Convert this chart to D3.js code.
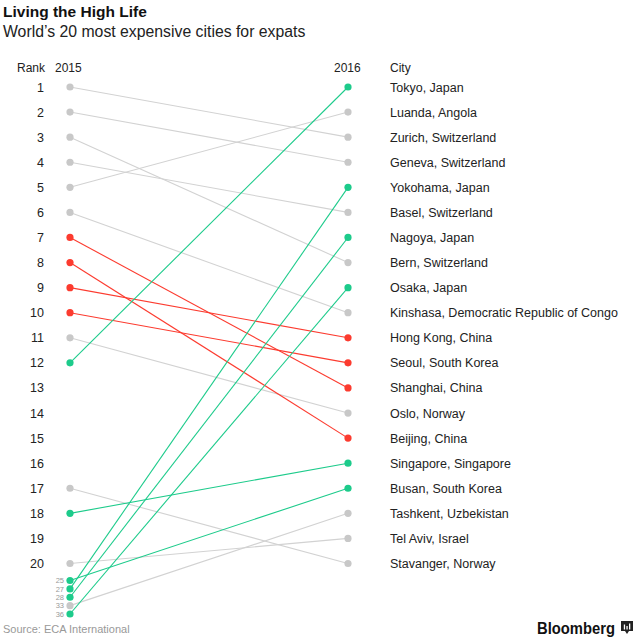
<!DOCTYPE html>
<html>
<head>
<meta charset="utf-8">
<script src="https://cdn.jsdelivr.net/npm/d3@7/dist/d3.min.js"></script>
<style>
  html, body { margin: 0; padding: 0; background: #fff; }
  svg { display: block; font-family: "Liberation Sans", Arial, sans-serif; }
</style>
</head>
<body>
<svg id="chart" width="640" height="640"></svg>
<script>
const cities = ["Tokyo, Japan","Luanda, Angola","Zurich, Switzerland","Geneva, Switzerland","Yokohama, Japan","Basel, Switzerland","Nagoya, Japan","Bern, Switzerland","Osaka, Japan","Kinshasa, Democratic Republic of Congo","Hong Kong, China","Seoul, South Korea","Shanghai, China","Oslo, Norway","Beijing, China","Singapore, Singapore","Busan, South Korea","Tashkent, Uzbekistan","Tel Aviv, Israel","Stavanger, Norway"];
const rank2016 = [1,2,3,4,5,6,7,8,9,10,11,12,13,14,15,16,17,18,19,20];
const rank2015 = [12,5,1,2,27,4,28,3,36,6,9,10,7,11,8,18,25,33,20,17];
const group = ["green","gray","gray","gray","green","gray","green","gray","green","gray","red","red","red","gray","red","green","green","gray","gray","gray"];
const mainRanks = d3.range(1, 21);
const extraRanks = [25, 27, 28, 33, 36];

const colors = { green: "#1dcb8b", red: "#fc3b2f", gray: "#c8c8c8" };
const lineColors = { green: "#1dcb8b", red: "#fc3b2f", gray: "#d2d2d2" };

const svg = d3.select("#chart");
const xLeft = 70, xRight = 348;
const yMain = d3.scaleLinear().domain([1, 20]).range([87, 563.5]);
const yExtra = d3.scalePoint().domain(extraRanks).range([580.5, 614]);
const y = r => r <= 20 ? yMain(r) : yExtra(r);

const data = cities.map((c, i) => ({ city: c, r15: rank2015[i], r16: rank2016[i], g: group[i] }));

// Title
svg.append("text").attr("x", 3).attr("y", 17).attr("font-size", 15.5).attr("font-weight", "bold").attr("fill", "#111").text("Living the High Life");
svg.append("text").attr("x", 3).attr("y", 37).attr("font-size", 15.8).attr("fill", "#222").text("World’s 20 most expensive cities for expats");

// Headers
svg.append("text").attr("x", 17).attr("y", 72).attr("font-size", 12).attr("fill", "#222").text("Rank");
svg.append("text").attr("x", 55).attr("y", 72).attr("font-size", 12).attr("fill", "#222").text("2015");
svg.append("text").attr("x", 334).attr("y", 72).attr("font-size", 12).attr("fill", "#222").text("2016");
svg.append("text").attr("x", 390).attr("y", 72).attr("font-size", 12).attr("fill", "#222").text("City");

// Rank labels
svg.append("g").selectAll("text").data(mainRanks).join("text")
  .attr("x", 44).attr("y", d => yMain(d)).attr("dy", "0.36em")
  .attr("text-anchor", "end").attr("font-size", 12.5).attr("fill", "#222").text(d => d);
svg.append("g").selectAll("text").data(extraRanks).join("text")
  .attr("x", 64).attr("y", d => yExtra(d)).attr("dy", "0.36em")
  .attr("text-anchor", "end").attr("font-size", 7.5).attr("fill", "#9a9a9a").text(d => d);

// Lines, gray first
const order = ["gray", "red", "green"];
const sorted = data.slice().sort((a, b) => order.indexOf(a.g) - order.indexOf(b.g));
svg.append("g").selectAll("line").data(sorted).join("line")
  .attr("x1", xLeft).attr("y1", d => y(d.r15))
  .attr("x2", xRight).attr("y2", d => y(d.r16))
  .attr("stroke", d => lineColors[d.g]).attr("stroke-width", 1.1);

svg.append("g").selectAll("circle").data(sorted).join("circle")
  .attr("cx", xLeft).attr("cy", d => y(d.r15)).attr("r", 3.6).attr("fill", d => colors[d.g]);
svg.append("g").selectAll("circle").data(sorted).join("circle")
  .attr("cx", xRight).attr("cy", d => y(d.r16)).attr("r", 3.6).attr("fill", d => colors[d.g]);

// City labels
svg.append("g").selectAll("text").data(data).join("text")
  .attr("x", 390).attr("y", d => yMain(d.r16)).attr("dy", "0.36em")
  .attr("font-size", 12.5).attr("fill", "#222").text(d => d.city);

// Source
svg.append("text").attr("x", 3).attr("y", 633).attr("font-size", 11).attr("fill", "#999").text("Source: ECA International");

// Bloomberg logo
svg.append("text").attr("x", 537).attr("y", 634).attr("font-size", 16).attr("font-weight", "bold").attr("fill", "#111")
  .attr("textLength", 78).attr("lengthAdjust", "spacingAndGlyphs").text("Bloomberg");
const lg = svg.append("g").attr("transform", "translate(621,621)");
lg.append("path").attr("d", "M0,0 H12 V10 H8 L6,13 L4,10 H0 Z").attr("fill", "#222");
[[2.8,5],[5.4,3.5],[8,6]].forEach(([x,h]) => lg.append("rect").attr("x", x).attr("y", 8.5 - h).attr("width", 1.3).attr("height", h).attr("fill", "#fff"));
</script>
</body>
</html>
